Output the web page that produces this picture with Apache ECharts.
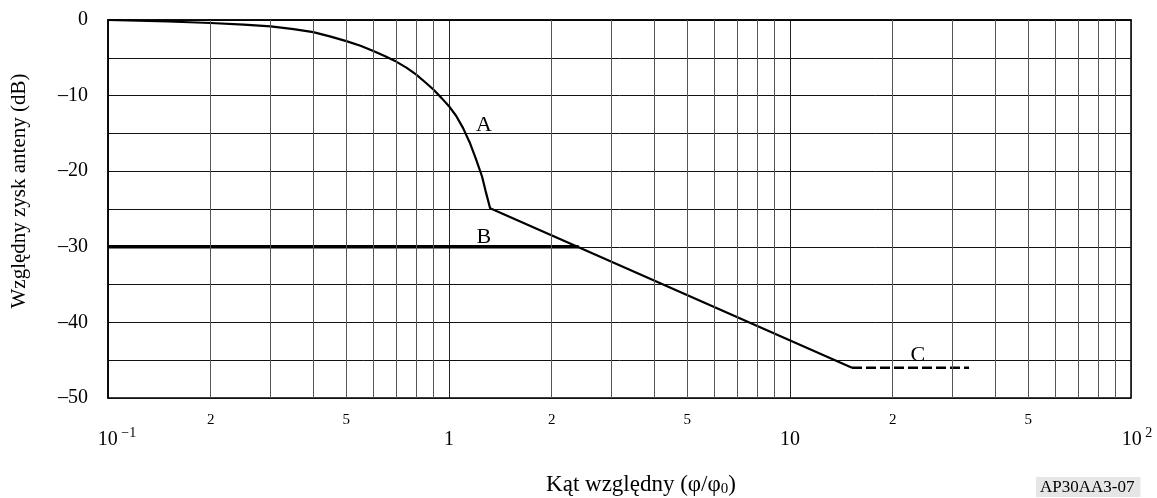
<!DOCTYPE html>
<html>
<head>
<meta charset="utf-8">
<script src="https://cdn.jsdelivr.net/npm/echarts@6/dist/echarts.min.js"></script>
<style>
html,body{margin:0;padding:0;background:#fff;}
#chart{width:1157px;height:498px;}
</style>
</head>
<body>
<div id="chart"></div>
<script>
// Curve A (main lobe + 20 dB/decade slope)
const curveAX = [0.1, 0.15, 0.2, 0.25, 0.3, 0.35, 0.4, 0.45, 0.5, 0.55, 0.6, 0.65, 0.7, 0.75, 0.8, 0.85, 0.9, 0.95, 1.0, 1.05, 1.1, 1.15, 1.2, 1.25, 1.28, 1.32, 15.2];
const curveAY = [0, -0.2, -0.4, -0.6, -0.85, -1.2, -1.6, -2.2, -2.8, -3.4, -4.1, -4.8, -5.5, -6.3, -7.2, -8.2, -9.2, -10.3, -11.4, -12.7, -14.3, -16.2, -18.4, -20.7, -22.6, -24.9, -46];
// Curve B (constant level)
const curveBX = [0.1, 2.4];
const curveBY = [-30, -30];
// Curve C (dashed floor)
const curveCX = [15.2, 33.5];
const curveCY = [-46, -46];
// Curve labels
const labelNames = ['A', 'B', 'C'];
const labelX = [1.266, 1.266, 23.7];
const labelY = [-13.9, -28.7, -44.4];
// Minor log grid lines and which get a small tick label
const minorGridX = [0.2,0.3,0.4,0.5,0.6,0.7,0.8,0.9, 2,3,4,5,6,7,8,9, 20,30,40,50,60,70,80,90];
const minorLabelDigits = ['2', '5'];
// Axis settings
const yMin = -50, yMax = 0, yStep = 5;
const xMin = 0.1, xMax = 100;
const xTitle = 'Kąt względny (φ/φ{sub|0})';
const yTitle = 'Względny zysk anteny (dB)';
const figCode = 'AP30AA3-07';

const FONT = '"Liberation Serif", "Times New Roman", serif';

function pairs(xs, ys){ return xs.map((x,i)=>[x, ys[i]]); }

const minorLines = minorGridX.map(v => {
  const lead = String(v).replace(/^0\./,'').charAt(0);
  const show = minorLabelDigits.includes(lead);
  return {
    xAxis: v,
    label: show ? {show:true, formatter: lead, position:'start', distance: 15,
                   fontFamily: FONT, fontSize: 15, color:'#000'} : {show:false}
  };
});

const chart = echarts.init(document.getElementById('chart'), null, {renderer:'canvas'});
chart.setOption({
  animation: false,
  backgroundColor: '#fff',
  title: {
    text: figCode, left: 1036, top: 477,
    backgroundColor: '#e6e6e6', padding: [1, 6, 0, 4],
    textStyle: {fontFamily: FONT, fontSize: 17, lineHeight: 19, fontWeight: 'normal', color: '#000'}
  },
  grid: {left: 108, right: 26, top: 20, bottom: 100, outerBoundsMode: 'none', containLabel: false,
         show: true, borderColor: '#000', borderWidth: 1.5, backgroundColor: 'transparent'},
  xAxis: {
    type: 'log', logBase: 10, min: xMin, max: xMax,
    axisLine: {show: true, lineStyle: {color: '#000', width: 1.5}},
    axisTick: {show: false},
    splitLine: {show: true, lineStyle: {color: '#222', width: 1}},
    minorTick: {show: false}, minorSplitLine: {show: false},
    name: xTitle, nameLocation: 'middle', nameGap: 74,
    nameTextStyle: {fontFamily: FONT, fontSize: 23, color: '#000', padding: [0, 0, 0, 43],
      rich: {sub: {fontFamily: FONT, fontSize: 15, verticalAlign: 'bottom', padding: [10, 0, 0, 0]}}},
    axisLabel: {
      margin: 28, color: '#000', fontFamily: FONT, fontSize: 20,
      formatter: function(v){
        const e = Math.round(Math.log10(v));
        if (e === -1) return '{p1|}{b|10}{s| \u22121}';
        if (e === 0) return '{b|1}';
        if (e === 1) return '{b|10}';
        if (e === 2) return '{p2|}{b|10}{s| 2}';
        return '';
      },
      rich: {
        b: {fontFamily: FONT, fontSize: 20, lineHeight: 24, color: '#000', verticalAlign: 'bottom'},
        s: {fontFamily: FONT, fontSize: 14, lineHeight: 24, color: '#000', verticalAlign: 'top'},
        p1: {width: 18}, p2: {width: 12}
      }
    }
  },
  yAxis: {
    type: 'value', min: yMin, max: yMax, interval: yStep,
    axisLine: {show: true, lineStyle: {color: '#000', width: 1.5}},
    axisTick: {show: false},
    splitLine: {show: true, lineStyle: {color: '#111', width: 1}},
    axisLabel: {
      margin: 20, color: '#000', fontFamily: FONT, fontSize: 20,
      formatter: function(v){
        if (Math.abs(v % 10) > 1e-9) return '';
        return v === 0 ? '0' : '\u2013' + Math.abs(v);
      }
    },
    name: yTitle, nameLocation: 'middle', nameGap: 78,
    nameTextStyle: {fontFamily: FONT, fontSize: 21, color: '#000', padding: [0, 0, 0, 36]}
  },
  series: [
    {
      type: 'line', data: [], silent: true,
      markLine: {
        silent: true, symbol: ['none', 'none'], animation: false,
        lineStyle: {color: '#555', width: 1, type: 'solid'},
        emphasis: {disabled: true},
        data: minorLines
      }
    },
    {
      type: 'line', data: pairs(curveBX, curveBY), showSymbol: false, z: 3,
      lineStyle: {color: '#000', width: 3.5}
    },
    {
      type: 'line', data: pairs(curveAX, curveAY), showSymbol: false, z: 4,
      lineStyle: {color: '#000', width: 2.2}
    },
    {
      type: 'line', data: pairs(curveCX, curveCY), showSymbol: false, z: 4,
      lineStyle: {color: '#000', width: 2.5, type: [10, 4]}
    },
    {
      type: 'scatter', symbolSize: 0, z: 5,
      itemStyle: {opacity: 1, color: '#000'},
      data: labelNames.map((n,i)=>({name: n, value: [labelX[i], labelY[i]]})),
      label: {show: true, position: 'inside', formatter: '{b}', fontFamily: FONT, fontSize: 22, color: '#000', opacity: 1}
    }
  ]
});
</script>
</body>
</html>
